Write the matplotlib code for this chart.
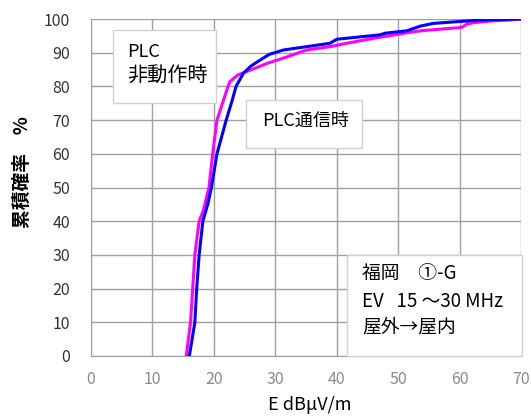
import matplotlib
matplotlib.use("Agg")
import matplotlib.pyplot as plt
from matplotlib.patches import Rectangle

plt.rcParams['font.family'] = ['Noto Sans CJK JP', 'DejaVu Sans']

# PLC非動作時 (magenta)
x_off = [15.5, 16.2, 16.55, 16.9, 17.6, 18.3, 19.2, 19.8, 20.5, 21.4, 22.3, 22.6, 23.9, 25.3, 27.0,
         28.6, 31.3, 35.1, 38.9, 41.6, 47.0, 51.4, 53.6, 60.3, 61.2, 62.2, 65.0, 68.0, 70.0]
y_off = [0, 10, 20, 30, 40, 43.3, 50, 60, 70, 75, 80, 81.4, 83.4, 84.4, 85.6,
         86.8, 88.4, 90.8, 91.8, 92.8, 94.6, 95.9, 96.5, 97.5, 98.5, 98.9, 99.4, 99.7, 100]

# PLC通信時 (blue)
x_on = [16.0, 16.9, 17.2, 17.6, 18.2, 19.0, 19.6, 20.5, 22.0, 23.0, 23.6, 24.8, 26.0, 27.5, 29.0,
        31.3, 35.1, 38.9, 40.0, 47.0, 47.9, 51.4, 53.6, 55.7, 59.5, 63.3, 70.0]
y_on = [0, 10, 20, 30, 40, 45, 50, 60, 70, 76, 80, 83.9, 86, 87.8, 89.5,
        90.8, 91.8, 92.8, 94.0, 95.3, 95.8, 96.5, 97.9, 98.7, 99.2, 99.7, 100]

xticks = [0, 10, 20, 30, 40, 50, 60, 70]
yticks = [0, 10, 20, 30, 40, 50, 60, 70, 80, 90, 100]

fig = plt.figure(figsize=(5.31, 4.17), dpi=100)
ax = fig.add_axes([0.1714, 0.1463, 0.81, 0.8081])

ax.plot(x_off, y_off, color='#FF00FF', lw=2.2, zorder=3)
ax.plot(x_on, y_on, color='#0000FF', lw=2.2, zorder=4)

ax.set_xlim(0, 70)
ax.set_ylim(0, 100)
ax.set_xticks(xticks)
ax.set_yticks(yticks)
ax.grid(True, color='#a0a0a0', lw=1.0)
ax.set_axisbelow(True)
for s in ['top', 'right']:
    ax.spines[s].set_visible(False)
for s in ['left', 'bottom']:
    ax.spines[s].set_color('#a0a0a0')
ax.tick_params(length=0)
ax.tick_params(axis='x', labelsize=11.5, labelcolor='#8a8a8a', pad=11)
ax.tick_params(axis='y', labelsize=11.5, labelcolor='#333333', pad=15)

ax.set_xlabel('E dBμV/m', fontsize=13)
ax.set_ylabel('累積確率　%', fontsize=13.5, fontweight='bold')
ax.xaxis.set_label_coords(0.509, -0.118)
ax.yaxis.set_label_coords(-0.137, 0.546)

# text boxes
boxes = [(3.5, 75.2, 16.9, 21.5), (25.2, 61.7, 18.9, 14.3), (41.7, 0.0, 28.4, 30.0)]
for bx, by, bw, bh in boxes:
    ax.add_patch(Rectangle((bx, by), bw, bh, facecolor='white', edgecolor='#d0d0d0',
                           lw=1.0, zorder=5, clip_on=False))

ax.text(5.9, 90.3, 'PLC', fontsize=13, va='center', ha='left', zorder=6)
ax.text(5.9, 83.1, '非動作時', fontsize=14.5, va='center', ha='left', zorder=6)
ax.text(27.8, 69.8, 'PLC通信時', fontsize=13, va='center', ha='left', zorder=6)
ax.text(44.1, 24.6, '福岡　①-G', fontsize=13.5, va='center', ha='left', zorder=6)
ax.text(44.1, 16.1, 'EV   15 ～30 MHz', fontsize=13.5, va='center', ha='left', zorder=6)
ax.text(44.1, 8.7, '屋外→屋内', fontsize=13.5, va='center', ha='left', zorder=6)

fig.savefig('out.png', dpi=100)
